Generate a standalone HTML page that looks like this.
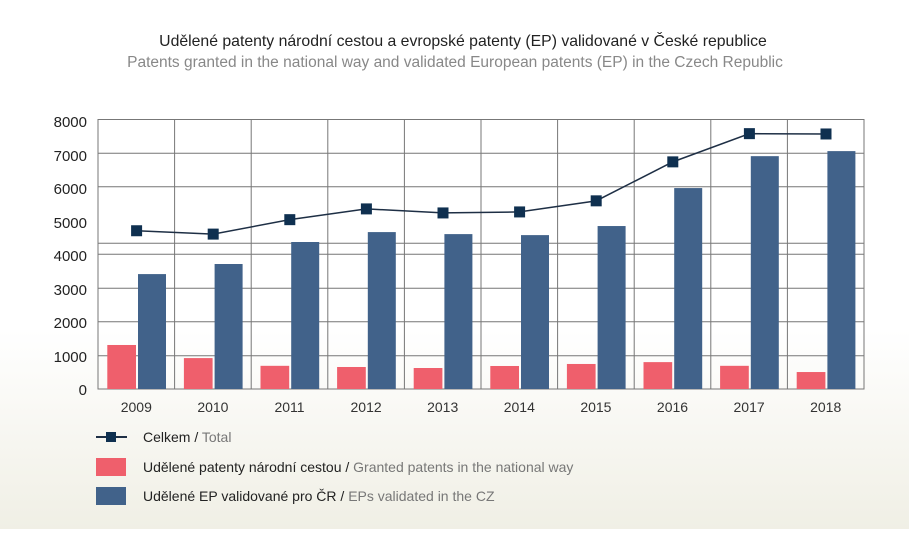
<!DOCTYPE html>
<html><head><meta charset="utf-8"><style>
body{margin:0;width:909px;height:529px;overflow:hidden;background:linear-gradient(#fff 0,#fff 330px,#f0efe5 529px);font-family:"Liberation Sans",sans-serif}
</style></head><body>
<svg width="909" height="529" xmlns="http://www.w3.org/2000/svg" font-family="Liberation Sans, sans-serif">
<text x="463" y="46" text-anchor="middle" font-size="15.8" fill="#222">Udělené patenty národní cestou a evropské patenty (EP) validované v České republice</text>
<text x="455" y="67" text-anchor="middle" font-size="15.5" fill="#888">Patents granted in the national way and validated European patents (EP) in the Czech Republic</text>
<g stroke="#777" stroke-width="1" fill="none">
<rect x="98" y="119.5" width="766" height="269.5"/>
<line x1="98" x2="864" y1="153.3" y2="153.3"/><line x1="98" x2="864" y1="186.7" y2="186.7"/>
<line x1="98" x2="864" y1="243.3" y2="243.3"/><line x1="98" x2="864" y1="254.3" y2="254.3"/>
<line x1="98" x2="864" y1="288.3" y2="288.3"/><line x1="98" x2="864" y1="321.7" y2="321.7"/>
<line x1="98" x2="864" y1="355.7" y2="355.7"/>
<g id="v"></g>
</g>
<g font-size="15" fill="#222" text-anchor="end">
<text x="87" y="127">8000</text><text x="87" y="161">7000</text><text x="87" y="194">6000</text>
<text x="87" y="228">5000</text><text x="87" y="261">4000</text><text x="87" y="295">3000</text>
<text x="87" y="328">2000</text><text x="87" y="362">1000</text><text x="87" y="395">0</text>
</g>
<g id="bars"></g>
<g font-size="14" fill="#333" text-anchor="middle" id="xl"></g>
<polyline id="ln" fill="none" stroke="#1e2f45" stroke-width="1.5"/>
<g id="mk" fill="#0f3050"></g>
<line x1="96" x2="127" y1="437" y2="437" stroke="#1e2f45" stroke-width="2"/>
<rect x="106" y="432" width="10" height="10" fill="#0f3050"/>
<rect x="96" y="458" width="30" height="18" fill="#ef5f6c"/>
<rect x="96" y="487" width="30" height="18" fill="#41628a"/>
<g font-size="14">
<text x="143" y="442" fill="#222">Celkem / <tspan fill="#777">Total</tspan></text>
<text x="143" y="472" fill="#222">Udělené patenty národní cestou / <tspan fill="#777">Granted patents in the national way</tspan></text>
<text x="143" y="501" fill="#222">Udělené EP validované pro ČR / <tspan fill="#777">EPs  validated in the CZ</tspan></text>
</g>
</svg>
<script>
var NS="http://www.w3.org/2000/svg";
function el(p,t,a){var e=document.createElementNS(NS,t);for(var k in a)e.setAttribute(k,a[k]);document.getElementById(p).appendChild(e);return e;}
var red=[1310,920,690,655,625,685,745,800,690,505];
var blue=[3420,3720,4375,4670,4610,4580,4850,5980,6930,7080];
var tot=[4710,4610,5040,5360,5240,5270,5600,6760,7600,7590];
var w=76.6,y0=389,s=33.6,pts=[];
for(var i=0;i<10;i++){
 var x=98+i*w;
 if(i>0)el("v","line",{x1:x,x2:x,y1:119.5,y2:389});
 el("bars","rect",{x:x+9.3,y:y0-red[i]*s/1000,width:28.7,height:red[i]*s/1000,fill:"#ef5f6c"});
 el("bars","rect",{x:x+40,y:y0-blue[i]*s/1000,width:28,height:blue[i]*s/1000,fill:"#41628a"});
 var t=el("xl","text",{x:x+w/2,y:412});t.textContent=2009+i;
 var cx=x+38.6,cy=y0-tot[i]*s/1000;pts.push(cx+","+cy);
 el("mk","rect",{x:cx-5.5,y:cy-5.5,width:11,height:11});
}
document.getElementById("ln").setAttribute("points",pts.join(" "));
</script>
</body></html>
